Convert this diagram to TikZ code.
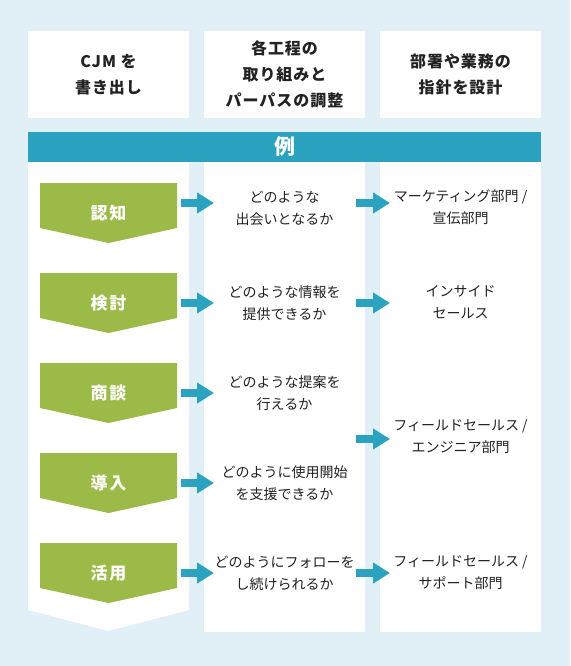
\documentclass[tikz,border=0pt]{standalone}
\usepackage{fontspec}
\setmainfont{Noto Sans CJK JP}
\usepackage{xcolor}
\usetikzlibrary{arrows.meta}
\definecolor{bgblue}{HTML}{E1EFF7}
\definecolor{barteal}{HTML}{2BA2BF}
\definecolor{stepgreen}{HTML}{9CBA48}
\definecolor{ink}{HTML}{222222}
\tikzset{
	hdr/.style={fill=white, minimum width=161pt, minimum height=87pt, inner sep=0pt,
			align=center, text=ink,
			font=\fontsize{16}{26}\selectfont\bfseries\addfontfeatures{LetterSpace=6}},
	phase/.style={text=white, inner sep=0pt,
			font=\fontsize{17}{20}\selectfont\bfseries\addfontfeatures{LetterSpace=10}},
	body/.style={align=center, text=ink, inner sep=0pt,
			font=\fontsize{14}{22}\selectfont},
	flow/.style={draw=barteal, line width=8pt, -{Triangle[length=17pt,width=20pt]}}
}

\begin{document}
\begin{tikzpicture}[x=1pt,y=-1pt]
	\fill[bgblue] (0,0) rectangle (570,666);
	\useasboundingbox (0,0) rectangle (570,666);
	% header row
	\node[hdr] (h1) at (108.5,74.5) {CJM を\\書き出し};
	\node[hdr] (h2) at (284.5,74.5) {各工程の\\取り組みと\\パーパスの調整};
	\node[hdr] (h3) at (460.5,74.5) {部署や業務の\\指針を設計};
	\node[fill=barteal, minimum width=513pt, minimum height=30pt, inner sep=0pt,
		text=white, font=\fontsize{21}{24}\selectfont\bfseries] (ex) at (284.5,147) {例};
	% columns
	\fill[white] (28,162) -- (189,162) -- (189,610) -- (108.5,631) -- (28,610) -- cycle;
	\fill[white] (204,162) rectangle (365,632);
	\fill[white] (380,162) rectangle (541,632);
	% phases
	\foreach \name [count=\i] in {認知,検討,商談,導入,活用} {
		\pgfmathsetmacro{\top}{183+90*(\i-1)}
		\fill[stepgreen] (40,\top) -- (177,\top) -- (177,\top+45)
		-- (108.5,\top+60) -- (40,\top+45) -- cycle;
		\node[phase] (s\i) at (108.5,\top+30) {\name};
	}
	% what to do
	\node[body] (q1) at (284.5,208) {どのような\\出会いとなるか};
	\node[body] (q2) at (284.5,303) {どのような情報を\\提供できるか};
	\node[body] (q3) at (284.5,393) {どのような提案を\\行えるか};
	\node[body] (q4) at (284.5,483) {どのように使用開始\\を支援できるか};
	\node[body] (q5) at (284.5,573) {どのようにフォローを\\し続けられるか};
	% who
	\node[body] (d1) at (460.5,207) {マーケティング部門 /\\宣伝部門};
	\node[body] (d2) at (460.5,302) {インサイド\\セールス};
	\node[body] (d3) at (460.5,437) {フィールドセールス /\\エンジニア部門};
	\node[body] (d4) at (460.5,573) {フィールドセールス /\\サポート部門};
	% arrows
	\foreach \y [count=\i] in {203,303,393,483,573} {
		\coordinate (a\i) at (181,\y);
		\draw[flow] (a\i) -- ++(33,0);
	}
	\foreach \y [count=\i] in {203,303,439,573} {
		\coordinate (b\i) at (356,\y);
		\draw[flow] (b\i) -- ++(34,0);
	}
\end{tikzpicture}
\end{document}
